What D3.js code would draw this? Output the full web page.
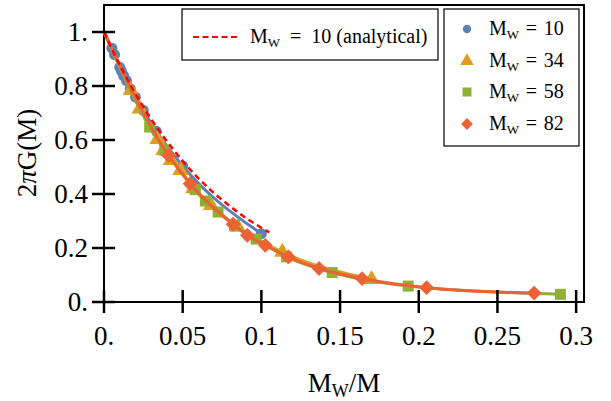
<!DOCTYPE html>
<html>
<head>
<meta charset="utf-8">
<script src="https://cdn.jsdelivr.net/npm/d3@7"></script>
<style>
  body { margin: 0; background: #fff; }
  text { font-family: "Liberation Serif", serif; fill: #000; }
</style>
</head>
<body>
<div class="chart"></div>
<script>
// M_W = 10
const mw10X = [0.005, 0.0067, 0.01, 0.0111, 0.0125, 0.0143, 0.0167, 0.02, 0.025, 0.0333, 0.05, 0.1]
const mw10Y = [0.94, 0.916, 0.869, 0.855, 0.838, 0.82, 0.79, 0.759, 0.71, 0.632, 0.504, 0.253]
// M_W = 34
const mw34X = [0.017, 0.0227, 0.034, 0.0378, 0.0425, 0.0486, 0.0567, 0.068, 0.085, 0.1133, 0.17]
const mw34Y = [0.784, 0.716, 0.603, 0.562, 0.525, 0.488, 0.42, 0.358, 0.278, 0.185, 0.084]
// M_W = 58
const mw58X = [0.029, 0.0387, 0.058, 0.0644, 0.0725, 0.0829, 0.0967, 0.116, 0.145, 0.1933, 0.29]
const mw58Y = [0.648, 0.562, 0.416, 0.374, 0.333, 0.284, 0.233, 0.167, 0.109, 0.059, 0.0285]
// M_W = 82
const mw82X = [0.041, 0.0547, 0.082, 0.0911, 0.1025, 0.1171, 0.1367, 0.164, 0.205, 0.2733]
const mw82Y = [0.543, 0.438, 0.288, 0.247, 0.21, 0.167, 0.124, 0.0867, 0.053, 0.033]
// analytical curve, M_W = 10
const anX = [0, 0.01, 0.02, 0.03, 0.04, 0.05, 0.06, 0.07, 0.08, 0.09, 0.1, 0.105]
const anY = [1, 0.878, 0.771, 0.677, 0.595, 0.522, 0.458, 0.403, 0.355, 0.312, 0.275, 0.258]
// all fitted lines start here
const lineStart = [0, 1]

const seriesNames = ['10', '34', '58', '82']
const xTicks = [0, 0.05, 0.1, 0.15, 0.2, 0.25, 0.3]
const xTickLabels = ['0.', '0.05', '0.1', '0.15', '0.2', '0.25', '0.3']
const yTicks = [0, 0.2, 0.4, 0.6, 0.8, 1]
const yTickLabels = ['0.', '0.2', '0.4', '0.6', '0.8', '1.']

const colors = ['#5E81B5', '#E19C24', '#8FB032', '#EB6235']
const symbols = [d3.symbolCircle, d3.symbolTriangle, d3.symbolSquare, d3.symbolSquare]
const symSize = [95, 115, 121, 110]
const symRot = [0, 0, 0, 45]

const series = [
  {x: mw10X, y: mw10Y},
  {x: mw34X, y: mw34Y},
  {x: mw58X, y: mw58Y},
  {x: mw82X, y: mw82Y}
].map((s, i) => ({
  name: seriesNames[i],
  points: s.x.map((v, j) => [v, s.y[j]])
}))

const svg = d3.select(".chart").append("svg")
  .attr("width", 611)
  .attr("height", 401)

const margin = {top: 5, right: 27, bottom: 99, left: 104}
const width = 611 - margin.left - margin.right
const height = 401 - margin.top - margin.bottom

const x = d3.scaleLinear().domain([0, 0.305]).range([margin.left, margin.left + width])
const y = d3.scaleLinear().domain([0, 1.1]).range([margin.top + height, margin.top])

const line = d3.line()
  .x(d => x(d[0]))
  .y(d => y(d[1]))
  .curve(d3.curveMonotoneX)

// frame
svg.append("rect")
  .attr("x", x(0)).attr("y", y(1.1))
  .attr("width", x(0.305) - x(0)).attr("height", y(0) - y(1.1))
  .attr("fill", "none").attr("stroke", "#000").attr("stroke-width", 2)

// series lines + markers
series.forEach((s, i) => {
  svg.append("path")
    .datum([lineStart].concat(s.points))
    .attr("d", line)
    .attr("fill", "none")
    .attr("stroke", colors[i])
    .attr("stroke-width", 3)
  svg.selectAll(".m" + i)
    .data(s.points)
    .enter()
    .append("path")
    .attr("class", "m" + i)
    .attr("d", d3.symbol(symbols[i], symSize[i]))
    .attr("transform", d => `translate(${x(d[0])},${y(d[1])}) rotate(${symRot[i]})`)
    .attr("fill", colors[i])
})

// analytical dashed
svg.append("path")
  .datum(anX.map((v, j) => [v, anY[j]]))
  .attr("d", line)
  .attr("fill", "none")
  .attr("stroke", "#FF0000")
  .attr("stroke-width", 2.5)
  .attr("stroke-dasharray", "6,4")

// axes
const xAxis = svg.append("g").attr("transform", `translate(0,${y(0)})`)
xAxis.append("line").attr("x1", x(0)).attr("x2", x(0.305)).attr("stroke", "#000").attr("stroke-width", 2)
xAxis.selectAll(".xt").data(xTicks).enter().append("line")
  .attr("x1", d => x(d)).attr("x2", d => x(d))
  .attr("y1", -12).attr("y2", 11)
  .attr("stroke", "#000").attr("stroke-width", 2.5)
xAxis.selectAll(".xl").data(xTicks).enter().append("text")
  .attr("x", d => x(d)).attr("y", 43)
  .attr("text-anchor", "middle")
  .attr("font-size", "27px")
  .text((d, i) => xTickLabels[i])

const yAxis = svg.append("g").attr("transform", `translate(${x(0)},0)`)
yAxis.selectAll(".yt").data(yTicks).enter().append("line")
  .attr("y1", d => y(d)).attr("y2", d => y(d))
  .attr("x1", -12).attr("x2", 11)
  .attr("stroke", "#000").attr("stroke-width", 2.5)
yAxis.selectAll(".yl").data(yTicks).enter().append("text")
  .attr("x", -16).attr("y", d => y(d) + 9)
  .attr("text-anchor", "end")
  .attr("font-size", "27px")
  .text((d, i) => yTickLabels[i])

// axis titles
const xt = svg.append("text")
  .attr("x", 344).attr("y", 392)
  .attr("text-anchor", "middle")
  .attr("font-size", "27px")
xt.append("tspan").text("M")
xt.append("tspan").attr("font-size", "18px").attr("dy", 5).text("W")
xt.append("tspan").attr("dy", -5).text("/M")

const yt = svg.append("text")
  .attr("transform", "translate(36,153) rotate(-90)")
  .attr("text-anchor", "middle")
  .attr("font-size", "27px")
yt.append("tspan").text("2")
yt.append("tspan").attr("font-style", "italic").text("π")
yt.append("tspan").text("G(M)")

// legend: analytical
const lg1 = svg.append("g")
lg1.append("rect").attr("x", 182).attr("y", 9).attr("width", 256).attr("height", 51)
  .attr("fill", "#fff").attr("stroke", "#000").attr("stroke-width", 1.2)
lg1.append("line").attr("x1", 193).attr("x2", 238).attr("y1", 37).attr("y2", 37)
  .attr("stroke", "#FF0000").attr("stroke-width", 2).attr("stroke-dasharray", "6,3.5")
const t1 = lg1.append("text").attr("x", 250).attr("y", 43).attr("font-size", "20px")
t1.append("tspan").text("M")
t1.append("tspan").attr("font-size", "13px").attr("dy", 4).text("W")
t1.append("tspan").attr("dy", -4).text("\u2002=\u200210 (analytical)")

// legend: series
const lg2 = svg.append("g")
lg2.append("rect").attr("x", 444).attr("y", 9).attr("width", 135).attr("height", 137)
  .attr("fill", "#fff").attr("stroke", "#000").attr("stroke-width", 1.2)
const rowY = [29, 61, 92, 124]
const legSize = [55, 80, 81, 70]
series.forEach((s, i) => {
  lg2.append("path")
    .attr("d", d3.symbol(symbols[i], legSize[i]))
    .attr("transform", `translate(467,${rowY[i]}) rotate(${symRot[i]})`)
    .attr("fill", colors[i])
  const t = lg2.append("text").attr("x", 489).attr("y", rowY[i] + 6).attr("font-size", "20px")
  t.append("tspan").text("M")
  t.append("tspan").attr("font-size", "13px").attr("dy", 4).text("W")
  t.append("tspan").attr("dy", -4).text("\u2004=\u2004" + s.name)
})
</script>
</body>
</html>
